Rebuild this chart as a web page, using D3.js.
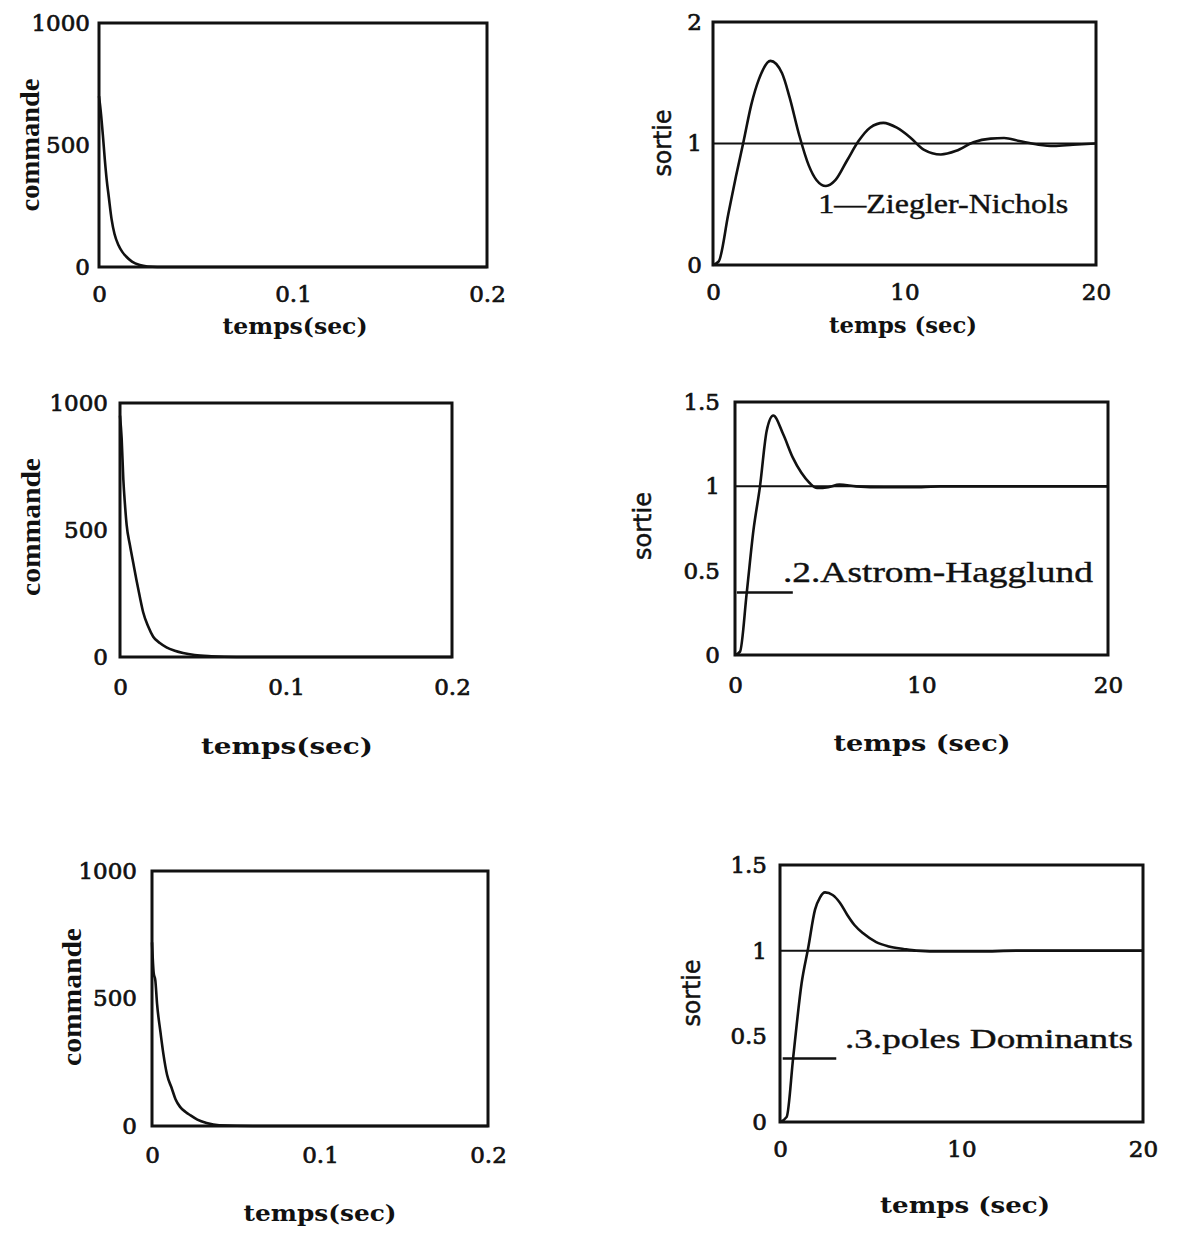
<!DOCTYPE html>
<html>
<head>
<meta charset="utf-8">
<script src="https://cdn.jsdelivr.net/npm/d3@7"></script>
<style>
body { margin: 0; background: #fff; }
svg text { fill: #111; }
</style>
</head>
<body>
<div id="chart"></div>
<script>
// ---- values ----
var cmdTicksX = [0, 0.1, 0.2];
var cmdTicksY = [0, 500, 1000];
var outTicksX = [0, 10, 20];
var outTicksY2 = [0, 1, 2];
var outTicksY15 = [0, 0.5, 1, 1.5];
var setpoint = 1;

// commande, Ziegler-Nichols
var znCmdT = [0, 0.001, 0.002, 0.003, 0.004, 0.005, 0.0065, 0.008, 0.01, 0.012, 0.014, 0.017, 0.021, 0.025, 0.03, 0.05, 0.1, 0.15, 0.2];
var znCmdU = [700, 630, 540, 440, 355, 290, 195, 135, 90, 62, 43, 22, 8, 2, 0, 0, 0, 0, 0];
// sortie, Ziegler-Nichols
var znOutT = [0, 0.3, 0.8, 1.2, 1.6, 2.0, 2.4, 3.0, 3.6, 4.0, 4.5, 5.0, 5.4, 5.9, 6.4, 7.0, 7.6, 8.2, 8.9, 9.6, 10.3, 11.0, 11.9, 12.7, 13.6, 14.5, 15.2, 16.0, 17.0, 17.8, 18.8, 20];
var znOutY = [0, 0.03, 0.42, 0.73, 1.02, 1.32, 1.53, 1.68, 1.58, 1.38, 1.07, 0.82, 0.7, 0.65, 0.7, 0.86, 1.02, 1.13, 1.17, 1.13, 1.05, 0.95, 0.91, 0.94, 1.01, 1.04, 1.045, 1.02, 0.99, 0.98, 0.99, 1.0];

// commande, Astrom-Hagglund
var ahCmdT = [0, 0.001, 0.002, 0.003, 0.004, 0.006, 0.008, 0.01, 0.012, 0.014, 0.017, 0.02, 0.024, 0.028, 0.033, 0.038, 0.045, 0.055, 0.07, 0.1, 0.15, 0.2];
var ahCmdU = [950, 860, 700, 600, 520, 440, 370, 300, 235, 175, 120, 80, 55, 38, 25, 16, 8, 3, 0, 0, 0, 0];
// sortie, Astrom-Hagglund
var ahOutT = [0, 0.27, 0.63, 0.99, 1.34, 1.7, 2.05, 2.58, 3.1, 3.56, 4.0, 4.4, 5.0, 5.6, 6.5, 8, 10, 11, 12, 20];
var ahOutY = [0, 0.02, 0.37, 0.74, 1.0, 1.33, 1.42, 1.31, 1.17, 1.08, 1.02, 0.99, 0.995, 1.01, 1.0, 0.995, 0.995, 1.0, 1.0, 1.0];

// commande, poles dominants
var pdCmdT = [0, 0.001, 0.002, 0.003, 0.005, 0.0067, 0.009, 0.0117, 0.014, 0.0167, 0.02, 0.0226, 0.027, 0.0325, 0.04, 0.06, 0.1, 0.15, 0.2];
var pdCmdU = [720, 600, 570, 480, 370, 286, 200, 149, 105, 75, 55, 43, 25, 12, 3, 0, 0, 0, 0];
// sortie, poles dominants
var pdOutT = [0, 0.37, 0.73, 1.19, 1.56, 1.93, 2.2, 2.48, 2.9, 3.3, 3.7, 4.1, 4.6, 5.3, 6.0, 6.8, 7.5, 9, 11, 13, 15, 20];
var pdOutY = [0, 0.03, 0.38, 0.81, 1.02, 1.24, 1.31, 1.34, 1.325, 1.28, 1.21, 1.15, 1.1, 1.05, 1.025, 1.01, 1.0, 0.995, 0.995, 1.0, 1.0, 1.0];

var legendNames = ["1\u2014Ziegler-Nichols", ".2.Astrom-Hagglund", ".3.poles Dominants"];

// ---- layout (pixel boxes of the six plots) ----
var panels = [
  { box: [99, 487, 23, 267], xDom: [0, 0.2], yDom: [0, 1000], xt: cmdTicksX, yt: cmdTicksY, t: znCmdT, v: znCmdU,
    xl: "temps(sec)", xlAt: [295, 334, 145], yl: "commande", ylAt: [29, 145, 133], padX: 19, padY: 9 },
  { box: [713, 1096, 22, 265], xDom: [0, 20], yDom: [0, 2], xt: outTicksX, yt: outTicksY2, t: znOutT, v: znOutY,
    xl: "temps (sec)", xlAt: [903, 333, 148], yl: "sortie", ylAt: [663, 143, 67], padX: 19, padY: 11, ref: true,
    legend: { text: legendNames[0], x: 5.5, y: 0.43, len: 250, size: 27 } },
  { box: [120, 452, 403, 657], xDom: [0, 0.2], yDom: [0, 1000], xt: cmdTicksX, yt: cmdTicksY, t: ahCmdT, v: ahCmdU,
    xl: "temps(sec)", xlAt: [287, 754, 172], yl: "commande", ylAt: [30, 527, 138], padX: 22, padY: 12 },
  { box: [735, 1108, 402, 655], xDom: [0, 20], yDom: [0, 1.5], xt: outTicksX, yt: outTicksY15, t: ahOutT, v: ahOutY,
    xl: "temps (sec)", xlAt: [922, 751, 177], yl: "sortie", ylAt: [643, 526, 68], padX: 22, padY: 15, ref: true,
    legend: { text: legendNames[1], x: 2.57, y: 0.43, len: 310, size: 30, line: [0.1, 3.1, 0.37] } },
  { box: [152, 488, 871, 1126], xDom: [0, 0.2], yDom: [0, 1000], xt: cmdTicksX, yt: cmdTicksY, t: pdCmdT, v: pdCmdU,
    xl: "temps(sec)", xlAt: [320, 1221, 153], yl: "commande", ylAt: [71, 997, 138], padX: 21, padY: 15 },
  { box: [780, 1143, 865, 1122], xDom: [0, 20], yDom: [0, 1.5], xt: outTicksX, yt: outTicksY15, t: pdOutT, v: pdOutY,
    xl: "temps (sec)", xlAt: [965, 1213, 170], yl: "sortie", ylAt: [692, 993, 67], padX: 19, padY: 13, ref: true,
    legend: { text: legendNames[2], x: 3.58, y: 0.43, len: 288, size: 27, line: [0.15, 3.1, 0.37] } }
];

var svg = d3.select('#chart')
  .append('svg')
  .attr('width', 1184)
  .attr('height', 1235)
  .style('background', '#fff');

panels.forEach(function(p) {
  var x = d3.scaleLinear().domain(p.xDom).range([p.box[0], p.box[1]]);
  var y = d3.scaleLinear().domain(p.yDom).range([p.box[3], p.box[2]]);
  var g = svg.append('g');

  var line = d3.line()
    .x(function(d) { return x(d[0]); })
    .y(function(d) { return y(d[1]); })
    .curve(d3.curveMonotoneX);

  var pts = p.t.map(function(t, i) { return [t, p.v[i]]; });

  if (p.ref) {
    g.append('line') // consigne
      .attr('x1', x(p.xDom[0])).attr('x2', x(p.xDom[1]))
      .attr('y1', y(setpoint)).attr('y2', y(setpoint))
      .attr('stroke', '#111').attr('stroke-width', 2);
  }

  g.append('path')
    .datum(pts)
    .attr('d', line)
    .attr('fill', 'none')
    .attr('stroke', '#111')
    .attr('stroke-width', 2.6)
    .attr('stroke-linejoin', 'round');

  // frame
  g.append('rect')
    .attr('x', p.box[0]).attr('y', p.box[2])
    .attr('width', p.box[1] - p.box[0]).attr('height', p.box[3] - p.box[2])
    .attr('fill', 'none').attr('stroke', '#111').attr('stroke-width', 3);

  var fmt = function(d) { return String(d); };

  var ax = g.append('g')
    .attr('transform', 'translate(0,' + p.box[3] + ')')
    .call(d3.axisBottom(x).tickValues(p.xt).tickSize(0).tickPadding(p.padX).tickFormat(fmt));
  var ay = g.append('g')
    .attr('transform', 'translate(' + p.box[0] + ',0)')
    .call(d3.axisLeft(y).tickValues(p.yt).tickSize(0).tickPadding(p.padY).tickFormat(fmt));
  [ax, ay].forEach(function(a) {
    a.select('.domain').remove();
    a.selectAll('text')
      .style('font-family', '"DejaVu Serif", serif')
      .style('font-size', '23px')
      .style('fill', '#111')
      .style('stroke', '#111')
      .style('stroke-width', 0.7);
  });

  // axis titles
  g.append('text')
    .attr('x', p.xlAt[0]).attr('y', p.xlAt[1])
    .attr('text-anchor', 'middle')
    .attr('textLength', p.xlAt[2]).attr('lengthAdjust', 'spacingAndGlyphs')
    .style('font-family', '"DejaVu Serif", serif')
    .style('font-weight', 'bold')
    .style('font-size', '23px')
    .text(p.xl);

  var isCmd = p.yl === 'commande';
  g.append('text')
    .attr('transform', 'translate(' + p.ylAt[0] + ',' + p.ylAt[1] + ') rotate(-90)')
    .attr('text-anchor', 'middle')
    .attr('dominant-baseline', 'central')
    .attr('textLength', p.ylAt[2]).attr('lengthAdjust', 'spacingAndGlyphs')
    .style('font-family', isCmd ? '"Liberation Serif", serif' : '"DejaVu Sans", sans-serif')
    .style('font-weight', isCmd ? 'bold' : 'normal')
    .style('font-size', isCmd ? '28px' : '24px')
    .style('stroke', isCmd ? 'none' : '#111')
    .style('stroke-width', 0.5)
    .text(p.yl);

  if (p.legend) {
    var L = p.legend;
    if (L.line) {
      g.append('line')
        .attr('x1', x(L.line[0])).attr('x2', x(L.line[1]))
        .attr('y1', y(L.line[2])).attr('y2', y(L.line[2]))
        .attr('stroke', '#111').attr('stroke-width', 2.5);
    }
    g.append('text')
      .attr('x', x(L.x)).attr('y', y(L.y))
      .attr('textLength', L.len).attr('lengthAdjust', 'spacingAndGlyphs')
      .style('font-family', '"Liberation Serif", serif')
      .style('font-size', L.size + 'px')
      .style('stroke', '#111')
      .style('stroke-width', 0.4)
      .text(L.text);
  }
});
</script>
</body>
</html>
